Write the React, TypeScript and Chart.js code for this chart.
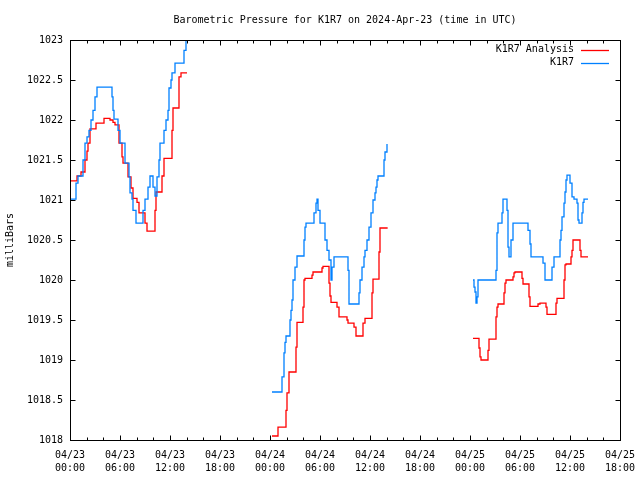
import React, { useEffect, useRef } from "react";
import { Chart, registerables } from "chart.js";

Chart.register(...registerables);

const TITLE = "Barometric Pressure for K1R7 on 2024-Apr-23 (time in UTC)";
const Y_LABEL = "milliBars";
const SERIES_NAMES = ["K1R7 Analysis", "K1R7"];
const SERIES_COLORS = ["#ff0000", "#0080ff"];

const X_TICK_DATES = ["04/23", "04/23", "04/23", "04/23", "04/24", "04/24", "04/24", "04/24", "04/25", "04/25", "04/25", "04/25"];
const X_TICK_TIMES = ["00:00", "06:00", "12:00", "18:00", "00:00", "06:00", "12:00", "18:00", "00:00", "06:00", "12:00", "18:00"];

// hours since 04/23 00:00 UTC ; null value = gap in record
const analysisHours = [
  0.1, 0.84, 1.32, 1.8, 2.04, 2.16, 2.4, 3.12, 4.08, 4.8, 5.16, 5.4, 5.88, 6.24, 6.36, 6.96, 7.32, 7.56, 8.04, 8.28, 9.0, 9.24, 10.2, 10.32, 11.04, 11.28, 12.24, 12.36, 13.08, 13.32, 14.04,
  20,
  24.24, 24.96, 25.92, 26.04, 26.28, 27.12, 27.24, 27.96, 28.08, 28.2, 29.04, 29.16, 30.24, 30.36, 31.08, 31.2, 31.32, 32.04, 32.28, 33.24, 33.36, 34.08, 34.32, 35.16, 35.4, 36.24, 36.36, 37.08, 37.2, 38.04,
  44,
  48.36, 49.08, 49.2, 49.32, 50.16, 50.28, 51.12, 51.24, 51.36, 52.08, 52.2, 52.32, 53.16, 53.28, 53.4, 54.24, 54.36, 55.08, 55.2, 56.16, 56.4, 57.12, 57.24, 58.32, 58.44, 59.28, 59.4, 59.52, 60.12, 60.24, 60.36, 61.2, 61.32, 62.16,
];
const analysisValues = [
  1021.24, 1021.3, 1021.35, 1021.5, 1021.61, 1021.71, 1021.89, 1021.96, 1022.02, 1022.0, 1021.97, 1021.94, 1021.71, 1021.54, 1021.46, 1021.29, 1021.15, 1021.02, 1020.97, 1020.84, 1020.71, 1020.61, 1020.87, 1021.1, 1021.3, 1021.52, 1021.87, 1022.15, 1022.54, 1022.59, 1022.59,
  null,
  1018.05, 1018.16, 1018.37, 1018.59, 1018.85, 1019.16, 1019.47, 1019.66, 1020.0, 1020.02, 1020.06, 1020.1, 1020.15, 1020.17, 1019.96, 1019.8, 1019.72, 1019.66, 1019.54, 1019.5, 1019.46, 1019.41, 1019.3, 1019.46, 1019.52, 1019.84, 1020.01, 1020.35, 1020.65, 1020.66,
  null,
  1019.27, 1019.15, 1019.04, 1019.0, 1019.12, 1019.26, 1019.54, 1019.66, 1019.7, 1019.84, 1019.96, 1020.0, 1020.04, 1020.09, 1020.1, 1020.02, 1019.95, 1019.79, 1019.67, 1019.7, 1019.71, 1019.66, 1019.57, 1019.71, 1019.77, 1020.0, 1020.19, 1020.2, 1020.29, 1020.37, 1020.5, 1020.37, 1020.29, 1020.29,
];

const stationHours = [
  0.1, 0.72, 0.96, 1.56, 1.8, 2.04, 2.28, 2.52, 2.76, 3.0, 3.24, 5.04, 5.16, 5.28, 5.76, 6.0, 6.6, 7.08, 7.2, 7.44, 7.56, 7.92, 8.76, 9.0, 9.36, 9.6, 9.96, 10.2, 10.44, 10.68, 10.8, 11.28, 11.52, 11.76, 11.88, 12.12, 12.24, 12.6, 13.68, 13.92, 14.16,
  20,
  24.24, 25.44, 25.68, 25.8, 25.92, 26.4, 26.52, 26.64, 26.76, 27.0, 27.24, 28.08, 28.2, 28.32, 29.28, 29.52, 29.64, 29.76, 30.0, 30.6, 30.84, 31.08, 31.32, 31.44, 31.68, 33.36, 33.48, 34.68, 34.8, 35.04, 35.28, 35.4, 35.64, 35.88, 36.12, 36.36, 36.6, 36.72, 36.84, 36.96, 37.68, 37.8, 38.04,
  44,
  48.36, 48.48, 48.6, 48.72, 48.84, 48.96, 51.12, 51.24, 51.36, 51.84, 51.96, 52.44, 52.56, 52.68, 52.92, 53.16, 54.96, 55.2, 55.32, 56.76, 57.0, 57.84, 58.08, 58.8, 58.92, 59.04, 59.28, 59.4, 59.52, 59.64, 60.0, 60.24, 60.48, 60.84, 60.96, 61.08, 61.44, 61.56, 61.68, 62.16,
];
const stationValues = [
  1021.01, 1021.21, 1021.3, 1021.5, 1021.71, 1021.79, 1021.87, 1022.0, 1022.12, 1022.29, 1022.41, 1022.29, 1022.12, 1022.01, 1021.87, 1021.71, 1021.46, 1021.29, 1021.09, 1021.01, 1020.87, 1020.71, 1020.87, 1021.01, 1021.16, 1021.3, 1021.16, 1021.05, 1021.29, 1021.5, 1021.71, 1021.87, 1022.0, 1022.12, 1022.4, 1022.5, 1022.59, 1022.71, 1022.87, 1023.0, 1023.1,
  null,
  1018.6, 1018.79, 1019.09, 1019.22, 1019.3, 1019.5, 1019.62, 1019.75, 1020.0, 1020.16, 1020.3, 1020.5, 1020.66, 1020.71, 1020.84, 1020.96, 1021.01, 1020.87, 1020.71, 1020.5, 1020.37, 1020.25, 1020.0, 1020.16, 1020.29, 1020.12, 1019.7, 1019.84, 1020.0, 1020.16, 1020.29, 1020.37, 1020.5, 1020.66, 1020.84, 1021.0, 1021.09, 1021.16, 1021.25, 1021.3, 1021.5, 1021.6, 1021.7,
  null,
  1020.0, 1019.91, 1019.85, 1019.71, 1019.79, 1020.0, 1020.12, 1020.59, 1020.71, 1020.84, 1021.01, 1020.87, 1020.41, 1020.29, 1020.5, 1020.71, 1020.62, 1020.45, 1020.29, 1020.21, 1020.0, 1020.16, 1020.29, 1020.5, 1020.62, 1020.79, 1020.96, 1021.1, 1021.25, 1021.31, 1021.21, 1021.04, 1021.01, 1020.96, 1020.75, 1020.71, 1020.84, 1020.97, 1021.01, 1021.01,
];

const FONT_FAMILY = '"DejaVu Sans Mono", "Liberation Mono", monospace';

const toPoints = (hours: number[], values: (number | null)[]) =>
  hours.map((h, i) => ({ x: h, y: values[i] }));

const gnuplotDecor = {
  id: "gnuplotDecor",
  afterDraw(chart: any) {
    const { ctx, chartArea } = chart;
    const xs = chart.scales.x;
    const ys = chart.scales.y;
    const L = Math.round(chartArea.left) + 0.5;
    const R = Math.round(chartArea.right) + 0.5;
    const T = Math.round(chartArea.top) + 0.5;
    const B = Math.round(chartArea.bottom) + 0.5;
    ctx.save();
    ctx.strokeStyle = "#000";
    ctx.lineWidth = 1;
    ctx.beginPath();
    // x ticks (major every 6h, minor every 2h), mirrored on top
    for (let h = xs.min; h <= xs.max + 1e-9; h += 2) {
      const px = Math.round(xs.getPixelForValue(h)) + 0.5;
      const len = Math.round(h) % 6 === 0 ? 5 : 3;
      ctx.moveTo(px, B);
      ctx.lineTo(px, B - len);
      ctx.moveTo(px, T);
      ctx.lineTo(px, T + len);
    }
    // y ticks, mirrored on right
    for (let v = ys.min; v <= ys.max + 1e-9; v += 0.5) {
      const py = Math.round(ys.getPixelForValue(v)) + 0.5;
      ctx.moveTo(L, py);
      ctx.lineTo(L + 5, py);
      ctx.moveTo(R, py);
      ctx.lineTo(R - 5, py);
    }
    ctx.stroke();
    ctx.strokeRect(L, T, R - L, B - T);

    // title
    ctx.fillStyle = "#000";
    ctx.font = `10px ${FONT_FAMILY}`;
    ctx.textAlign = "center";
    ctx.textBaseline = "middle";
    ctx.fillText(TITLE, (chartArea.left + chartArea.right) / 2, 20);

    // key
    const rows = [49.5, 62.5];
    SERIES_NAMES.forEach((name, i) => {
      ctx.textAlign = "right";
      ctx.fillStyle = "#000";
      ctx.fillText(name, 574, rows[i]);
      ctx.strokeStyle = SERIES_COLORS[i];
      ctx.lineWidth = 1.3;
      ctx.beginPath();
      ctx.moveTo(581, Math.round(rows[i]) + 0.5);
      ctx.lineTo(609, Math.round(rows[i]) + 0.5);
      ctx.stroke();
    });
    ctx.restore();
  },
};

export default function App() {
  const canvasRef = useRef<HTMLCanvasElement | null>(null);

  useEffect(() => {
    const canvas = canvasRef.current;
    if (!canvas) return;
    const chart = new Chart(canvas, {
      type: "line",
      data: {
        datasets: [
          {
            label: SERIES_NAMES[0],
            data: toPoints(analysisHours, analysisValues),
            borderColor: SERIES_COLORS[0],
            backgroundColor: SERIES_COLORS[0],
            borderWidth: 1.3,
            stepped: "before",
            pointRadius: 0,
            spanGaps: false,
            order: 1,
          },
          {
            label: SERIES_NAMES[1],
            data: toPoints(stationHours, stationValues),
            borderColor: SERIES_COLORS[1],
            backgroundColor: SERIES_COLORS[1],
            borderWidth: 1.3,
            stepped: "before",
            pointRadius: 0,
            spanGaps: false,
            order: 0,
          },
        ],
      },
      options: {
        animation: false,
        responsive: false,
        maintainAspectRatio: false,
        devicePixelRatio: 1,
        layout: { padding: { top: 40, right: 20, left: 0, bottom: 0 } },
        plugins: {
          legend: { display: false },
          title: { display: false },
          tooltip: { enabled: false },
        },
        scales: {
          x: {
            type: "linear",
            min: 0,
            max: 66,
            afterFit: (s: any) => {
              s.height = 40;
              s.paddingLeft = 0;
              s.paddingRight = 0;
            },
            grid: { display: false, drawTicks: false },
            border: { display: false },
            ticks: {
              stepSize: 6,
              autoSkip: false,
              maxRotation: 0,
              minRotation: 0,
              padding: 9,
              color: "#000",
              font: { family: FONT_FAMILY, size: 10, lineHeight: 1.3 },
              callback: (_v: any, i: number) => [X_TICK_DATES[i], X_TICK_TIMES[i]],
            },
          },
          y: {
            min: 1018,
            max: 1023,
            afterFit: (s: any) => {
              s.width = 70;
              s.paddingTop = 0;
              s.paddingBottom = 0;
            },
            grid: { display: false, drawTicks: false },
            border: { display: false },
            ticks: {
              stepSize: 0.5,
              padding: 7,
              color: "#000",
              font: { family: FONT_FAMILY, size: 10 },
              callback: (v: any) => String(Math.round(Number(v) * 10) / 10),
            },
            title: {
              display: true,
              text: Y_LABEL,
              color: "#000",
              font: { family: FONT_FAMILY, size: 10 },
              padding: { top: 4, bottom: 0 },
            },
          },
        },
      },
      plugins: [gnuplotDecor],
    });
    return () => chart.destroy();
  }, []);

  return (
    <div style={{ position: "fixed", left: 0, top: 0, width: 640, height: 480, background: "#fff" }}>
      <canvas ref={canvasRef} width={640} height={480} style={{ width: 640, height: 480, display: "block" }} />
    </div>
  );
}
